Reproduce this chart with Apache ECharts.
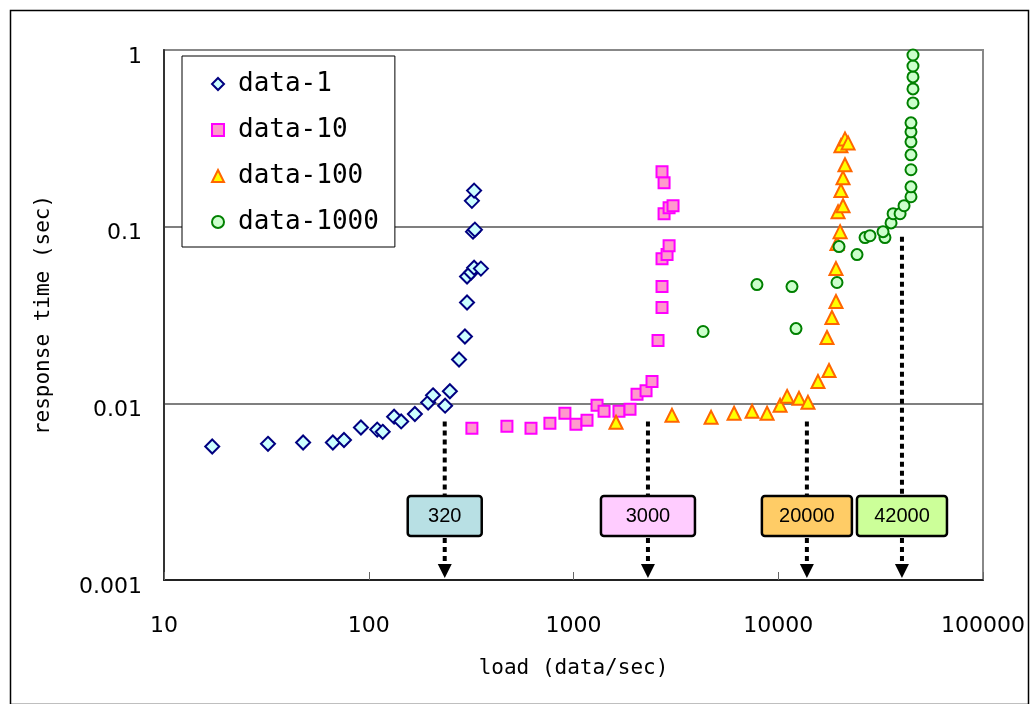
<!DOCTYPE html>
<html>
<head>
<meta charset="UTF-8">
<title>response time vs load</title>
<script src="https://cdn.jsdelivr.net/npm/echarts@6/dist/echarts.min.js"></script>
<style>
  html, body { margin: 0; padding: 0; background: #fff; }
  #main { width: 1031px; height: 704px; }
</style>
</head>
<body>
<div id="main"></div>
<script>
// points: [load, response time]
var data1 = [[17.2,0.0057],[32.2,0.0059],[47.8,0.0060],[66.8,0.0060],[75.7,0.0062],[91.6,0.0073],
  [110,0.0071],[117,0.0069],[133,0.0084],[144,0.0079],[168,0.0087],[195,0.0101],[206,0.0111],
  [236,0.0097],[249,0.0117],[276,0.0177],[295,0.0239],[302,0.0372],[302,0.0522],[316,0.055],
  [327,0.0586],[353,0.0579],[323,0.0937],[330,0.0962],[319,0.140],[327,0.160]];
var data10 = [[319,0.00722],[473,0.00741],[620,0.00722],[767,0.00771],[908,0.00878],[1028,0.00761],
  [1164,0.00801],[1303,0.00974],[1410,0.00901],[1668,0.00901],[1888,0.00925],[2043,0.01124],
  [2261,0.0118],[2418,0.0133],[2587,0.0227],[2706,0.0349],[2706,0.0458],[2706,0.0659],[2864,0.0695],
  [2930,0.0781],[2769,0.1184],[2930,0.128],[3063,0.1314],[2769,0.1773],[2706,0.2045]];
var data100 = [[1613,0.00781],[3027,0.00855],[4699,0.00833],[6086,0.00878],[7453,0.00901],[8818,0.00878],
  [10210,0.00974],[11050,0.01095],[12630,0.01067],[13970,0.01013],[15630,0.0133],[17700,0.01535],
  [17300,0.0236],[18290,0.0306],[19140,0.0377],[19140,0.0579],[19360,0.0802],[20050,0.0937],
  [19590,0.1216],[20720,0.1314],[20240,0.160],[20720,0.189],[21180,0.224],[20240,0.287],
  [21180,0.314],[21930,0.298]];
var data1000 = [[4295,0.0255],[7870,0.047],[11670,0.0458],[12210,0.0265],[19360,0.0483],[19810,0.0771],
  [24250,0.0695],[26540,0.0867],[28060,0.0889],[33200,0.0867],[32490,0.0937],[35560,0.105],
  [36390,0.1184],[39360,0.1184],[41150,0.1314],[44490,0.1477],[44490,0.168],[44490,0.210],
  [44490,0.255],[44490,0.302],[44490,0.344],[44490,0.387],[45500,0.502],[45500,0.602],
  [45500,0.704],[45500,0.812],[45500,0.937]];

// limit markers (dotted arrows)
var limitX = [235, 2310, 13800, 40200];
var limitTop = [0.0081, 0.0081, 0.0081, 0.090];
var limitLabels = ['320', '3000', '20000', '42000'];
var boxY = 0.0023;

var boxColors = ['#b8e0e4', '#ffccff', '#ffcc66', '#ccff99'];
var boxWidths = [74, 94, 90, 90];

var myChart = echarts.init(document.getElementById('main'));

function fmt(v) { return String(+(+v).toPrecision(6)); }

function renderLimit(params, api) {
  var i = api.value(2);
  var top = api.coord([api.value(0), api.value(1)]);
  var mid = api.coord([api.value(0), boxY]);
  var bot = api.coord([api.value(0), 0.001]);
  var x = top[0], h = 40, w = boxWidths[i];
  var dash = { stroke: '#000', lineWidth: 4, lineDash: [5, 4] };
  return {
    type: 'group',
    children: [
      { type: 'line', shape: { x1: x, y1: top[1] + 2, x2: x, y2: mid[1] - h / 2 }, style: dash },
      { type: 'line', shape: { x1: x, y1: mid[1] + h / 2 + 2, x2: x, y2: bot[1] - 15 }, style: dash },
      { type: 'polygon', shape: { points: [[x - 7, bot[1] - 16], [x + 7, bot[1] - 16], [x, bot[1] - 2]] },
        style: { fill: '#000' } },
      { type: 'rect', shape: { x: x - w / 2, y: mid[1] - h / 2, width: w, height: h, r: 3 },
        style: { fill: boxColors[i], stroke: '#000', lineWidth: 2.5 } },
      { type: 'text', x: x, y: mid[1],
        style: { text: limitLabels[i], fill: '#000', font: '20px "Liberation Sans", Arial, sans-serif',
          align: 'center', verticalAlign: 'middle' } }
    ]
  };
}

function pts(name, data, symbol, size, fill, stroke) {
  return {
    name: name, type: 'scatter', data: data, symbol: symbol, symbolSize: size,
    itemStyle: { color: fill, borderColor: stroke, borderWidth: 2, opacity: 1 },
    emphasis: { disabled: true }
  };
}

var option = {
  backgroundColor: '#fff',
  animation: false,
  graphic: [{
    type: 'rect', left: 8, top: 8, z: -10,
    shape: { width: 1018, height: 694 },
    style: { fill: 'none', stroke: '#000', lineWidth: 1.5 }
  }],
  grid: { left: 164, right: 48, top: 50, bottom: 124, show: true, borderColor: '#888', borderWidth: 2 },
  legend: {
    orient: 'vertical', left: 182, top: 56,
    padding: [15, 16, 12, 29], itemGap: 20, itemWidth: 12, itemHeight: 12,
    backgroundColor: '#fff', borderColor: '#000', borderWidth: 1, borderRadius: 0,
    data: ['data-1', 'data-10', 'data-100', 'data-1000'],
    textStyle: { fontFamily: '"DejaVu Sans Mono", monospace', fontSize: 26, color: '#000', padding: [0, 0, 0, 9] },
    z: 10
  },
  xAxis: {
    type: 'log', logBase: 10, min: 10, max: 100000,
    name: 'load (data/sec)', nameLocation: 'middle', nameGap: 78,
    nameTextStyle: { fontFamily: '"DejaVu Sans Mono", monospace', fontSize: 21, color: '#000' },
    axisLine: { lineStyle: { color: '#222', width: 2 } },
    axisTick: { show: true, inside: true, length: 8, lineStyle: { color: '#666' } },
    minorTick: { show: false },
    splitLine: { show: false },
    axisLabel: { fontFamily: '"DejaVu Sans", sans-serif', fontSize: 22, color: '#000', margin: 35, formatter: fmt }
  },
  yAxis: {
    type: 'log', logBase: 10, min: 0.001, max: 1,
    name: 'response time (sec)', nameLocation: 'middle', nameGap: 110,
    nameTextStyle: { fontFamily: '"DejaVu Sans Mono", monospace', fontSize: 21, color: '#000' },
    axisLine: { lineStyle: { color: '#333', width: 2 } },
    axisTick: { show: false },
    splitLine: { show: true, lineStyle: { color: ['#555', '#555', '#555', '#888'], width: 1.5 } },
    axisLabel: { fontFamily: '"DejaVu Sans", sans-serif', fontSize: 22, color: '#000', margin: 22,
      verticalAlign: 'top', lineHeight: 14, formatter: fmt }
  },
  series: [
    pts('data-1', data1, 'diamond', 14, '#ccffff', '#000080'),
    pts('data-10', data10, 'rect', 11, '#ff99cc', '#ff00ff'),
    pts('data-100', data100, 'triangle', 13, '#ffff00', '#ff6600'),
    pts('data-1000', data1000, 'circle', 11, '#ccffcc', '#008000'),
    {
      type: 'custom', name: 'limits', renderItem: renderLimit, silent: true, z: 5,
      data: limitX.map(function (x, i) { return [x, limitTop[i], i]; })
    }
  ]
};
myChart.setOption(option);
</script>
</body>
</html>
